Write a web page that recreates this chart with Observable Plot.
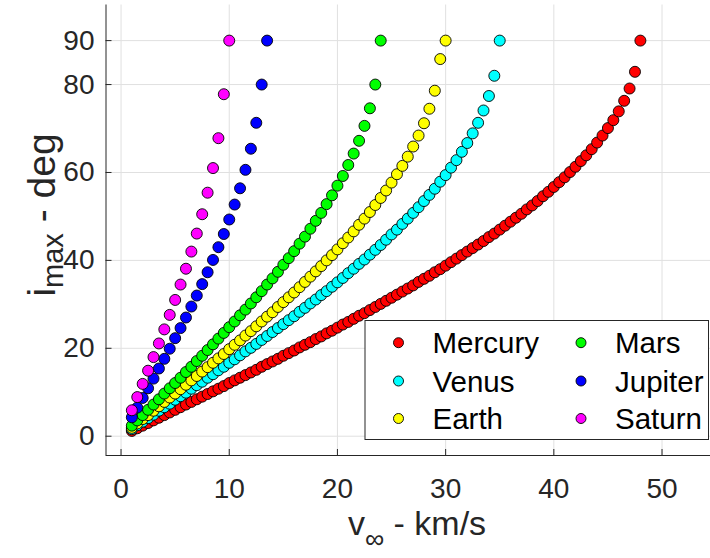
<!DOCTYPE html>
<html>
<head>
<meta charset="utf-8">
<script src="https://cdn.jsdelivr.net/npm/d3@7"></script>
<script src="https://cdn.jsdelivr.net/npm/@observablehq/plot@0.6"></script>
<style>
  html, body { margin: 0; padding: 0; background: #fff; }
  #chart svg { display: block; }
</style>
</head>
<body>
<div id="chart"></div>
<script>
// Maximum inclination change vs hyperbolic excess speed, per planet
const planets = ["Mercury", "Venus", "Earth", "Mars", "Jupiter", "Saturn"];
const colors = ["#ff0000", "#00ffff", "#ffff00", "#00ff00", "#0000ff", "#ff00ff"];

// v∞ (km/s)
const vMercury = [1,1.5,2,2.5,3,3.5,4,4.5,5,5.5,6,6.5,7,7.5,8,8.5,9,9.5,10,
  10.5,11,11.5,12,12.5,13,13.5,14,14.5,15,15.5,16,16.5,17,17.5,18,18.5,19,19.5,20,
  20.5,21,21.5,22,22.5,23,23.5,24,24.5,25,25.5,26,26.5,27,27.5,28,28.5,29,29.5,30,
  30.5,31,31.5,32,32.5,33,33.5,34,34.5,35,35.5,36,36.5,37,37.5,38,38.5,39,39.5,40,
  40.5,41,41.5,42,42.5,43,43.5,44,44.5,45,45.5,46,46.5,47,47.5,48];
const vVenus = [1,1.5,2,2.5,3,3.5,4,4.5,5,5.5,6,6.5,7,7.5,8,8.5,9,9.5,10,
  10.5,11,11.5,12,12.5,13,13.5,14,14.5,15,15.5,16,16.5,17,17.5,18,18.5,19,19.5,20,
  20.5,21,21.5,22,22.5,23,23.5,24,24.5,25,25.5,26,26.5,27,27.5,28,28.5,29,29.5,30,
  30.5,31,31.5,32,32.5,33,33.5,34,34.5,35];
const vEarth = [1,1.5,2,2.5,3,3.5,4,4.5,5,5.5,6,6.5,7,7.5,8,8.5,9,9.5,10,
  10.5,11,11.5,12,12.5,13,13.5,14,14.5,15,15.5,16,16.5,17,17.5,18,18.5,19,19.5,20,
  20.5,21,21.5,22,22.5,23,23.5,24,24.5,25,25.5,26,26.5,27,27.5,28,28.5,29,29.5,30];
const vMars = [1,1.5,2,2.5,3,3.5,4,4.5,5,5.5,6,6.5,7,7.5,8,8.5,9,9.5,10,
  10.5,11,11.5,12,12.5,13,13.5,14,14.5,15,15.5,16,16.5,17,17.5,18,18.5,19,19.5,20,
  20.5,21,21.5,22,22.5,23,23.5,24];
const vJupiter = [1,1.5,2,2.5,3,3.5,4,4.5,5,5.5,6,6.5,7,7.5,8,8.5,9,9.5,10,
  10.5,11,11.5,12,12.5,13,13.5];
const vSaturn = [1,1.5,2,2.5,3,3.5,4,4.5,5,5.5,6,6.5,7,7.5,8,8.5,9,9.5,10];

// i_max (deg)
const iMercury = [1.2,1.8,2.4,3.0,3.6,4.2,4.8,5.4,6.0,6.6,7.2,7.8,8.4,9.0,9.6,10.2,10.8,11.4,12.1,
  12.7,13.3,13.9,14.5,15.1,15.8,16.4,17.0,17.6,18.3,18.9,19.5,20.2,20.8,21.4,22.1,22.7,23.4,24.0,24.7,
  25.4,26.0,26.7,27.4,28.0,28.7,29.4,30.1,30.8,31.5,32.2,32.9,33.6,34.3,35.1,35.8,36.5,37.3,38.0,38.8,
  39.6,40.4,41.2,42.0,42.8,43.6,44.4,45.3,46.1,47.0,47.9,48.8,49.7,50.6,51.6,52.5,53.5,54.6,55.6,56.7,
  57.8,58.9,60.1,61.3,62.6,63.9,65.3,66.8,68.4,70.1,71.9,73.9,76.3,79.1,82.9,90];
const iVenus = [1.6,2.5,3.3,4.1,4.9,5.8,6.6,7.4,8.3,9.1,9.9,10.8,11.6,12.4,13.3,14.1,15.0,15.8,16.7,
  17.5,18.4,19.3,20.1,21.0,21.9,22.8,23.7,24.6,25.5,26.4,27.3,28.3,29.2,30.2,31.1,32.1,33.0,34.0,35.0,
  36.0,37.1,38.1,39.2,40.2,41.3,42.4,43.5,44.7,45.9,47.0,48.3,49.5,50.8,52.1,53.5,54.9,56.3,57.9,59.4,
  61.1,62.8,64.7,66.7,68.9,71.3,74.1,77.4,82.0,90];
const iEarth = [1.9,2.9,3.9,4.8,5.8,6.8,7.8,8.8,9.7,10.7,11.7,12.7,13.7,14.7,15.7,16.7,17.7,18.7,19.8,
  20.8,21.8,22.9,23.9,25.0,26.1,27.2,28.2,29.4,30.5,31.6,32.7,33.9,35.1,36.3,37.5,38.7,40.0,41.2,42.5,
  43.9,45.2,46.6,48.1,49.5,51.0,52.6,54.2,55.9,57.7,59.6,61.5,63.6,65.9,68.4,71.2,74.5,78.6,85.8,90];
const iMars = [2.4,3.6,4.8,6.0,7.2,8.4,9.7,10.9,12.1,13.3,14.6,15.8,17.1,18.3,19.6,20.9,22.2,23.5,24.8,
  26.1,27.5,28.8,30.2,31.6,33.0,34.5,35.9,37.4,39.0,40.5,42.1,43.8,45.4,47.2,49.0,50.8,52.8,54.8,57.0,
  59.2,61.7,64.3,67.2,70.6,74.6,80.0,90];
const iJupiter = [4.3,6.5,8.7,10.9,13.1,15.4,17.6,19.9,22.3,24.6,27.0,29.5,32.0,34.6,37.3,40.1,43.0,46.0,49.3,
  52.7,56.4,60.6,65.4,71.3,80.0,90];
const iSaturn = [5.9,8.9,11.9,14.9,18.0,21.1,24.3,27.6,31.0,34.5,38.1,42.0,46.1,50.5,55.4,61.0,67.8,77.8,90];

const xTicks = [0, 10, 20, 30, 40, 50];
const yTicks = [0, 20, 40, 60, 80, 90];

const vSeries = [vMercury, vVenus, vEarth, vMars, vJupiter, vSaturn];
const iSeries = [iMercury, iVenus, iEarth, iMars, iJupiter, iSaturn];

// one table per planet, kept in plotting order
const tables = planets.map((name, k) =>
  vSeries[k].map((v, j) => ({planet: name, v, i: iSeries[k][j]})));

const W = 710, H = 558;
const mL = 105.5, mR = 0, mT = 4.5, mB = 103;
const xDomain = [-1.39, 54.48];
const yDomain = [-4.39, 98.1];
const innerW = W - mL - mR, innerH = H - mT - mB;
const axisColor = "#262626";
const gridColor = "#e0e0e0";
const font = "'Liberation Sans', Arial, Helvetica, sans-serif";

const chart = Plot.plot({
  width: W, height: H,
  marginLeft: mL, marginRight: mR, marginTop: mT, marginBottom: mB,
  style: {fontFamily: font, background: "#fff", overflow: "visible"},
  x: {domain: xDomain},
  y: {domain: yDomain},
  marks: [
    Plot.gridX(xTicks, {stroke: gridColor, strokeOpacity: 1}),
    Plot.gridY(yTicks, {stroke: gridColor, strokeOpacity: 1}),
    // inward tick marks
    Plot.tickX(xTicks, {x: d => d, stroke: axisColor, insetTop: innerH - 6}),
    Plot.tickY(yTicks, {y: d => d, stroke: axisColor, insetRight: innerW - 6}),
    Plot.ruleX([xDomain[0]], {stroke: axisColor}),
    Plot.ruleY([yDomain[0]], {stroke: axisColor}),
    Plot.axisX(xTicks, {anchor: "bottom", tickSize: 0, tickPadding: 23, fontSize: 28, fill: axisColor, label: null}),
    Plot.axisY(yTicks, {anchor: "left", tickSize: 0, tickPadding: 11.5, fontSize: 28, fill: axisColor, label: null}),
    ...tables.map((rows, k) => Plot.dot(rows, {
      x: "v", y: "i", r: 5.5,
      fill: colors[k], fillOpacity: 1,
      stroke: "#000", strokeWidth: 0.9
    }))
  ]
});

document.getElementById("chart").appendChild(chart);

const svg = d3.select(chart);

// axis titles with subscripts
const yTitle = svg.append("text")
  .attr("transform", "translate(55,215) rotate(-90)")
  .attr("text-anchor", "middle")
  .attr("font-family", font)
  .attr("font-size", 39)
  .attr("fill", axisColor);
yTitle.append("tspan").text("i");
yTitle.append("tspan").attr("font-size", 29).attr("dy", 8).text("max");
yTitle.append("tspan").attr("dy", -8).text(" - deg");

const xTitle = svg.append("text")
  .attr("x", 417).attr("y", 535)
  .attr("text-anchor", "middle")
  .attr("font-family", font)
  .attr("font-size", 34)
  .attr("fill", axisColor);
xTitle.append("tspan").text("v");
xTitle.append("tspan").attr("font-size", 27).attr("dy", 13).text("∞");
xTitle.append("tspan").attr("dy", -13).text(" - km/s");

// legend box, two columns
const lg = svg.append("g").attr("font-family", font).attr("text-anchor", "start");
lg.append("rect")
  .attr("x", 365).attr("y", 320.5)
  .attr("width", 343.5).attr("height", 119)
  .attr("fill", "#fff").attr("stroke", axisColor).attr("stroke-width", 1);
const colX = [398.5, 581];
const rowY = [342.7, 381, 418.5];
planets.forEach((name, k) => {
  const cx = colX[Math.floor(k / 3)], cy = rowY[k % 3];
  lg.append("circle").attr("cx", cx).attr("cy", cy).attr("r", 5)
    .attr("fill", colors[k]).attr("stroke", "#000").attr("stroke-width", 0.9);
  lg.append("text").attr("x", cx + 34).attr("y", cy + 10.5)
    .attr("text-anchor", "start")
    .attr("font-size", 29.5).attr("fill", "#000").text(name);
});
</script>
</body>
</html>
